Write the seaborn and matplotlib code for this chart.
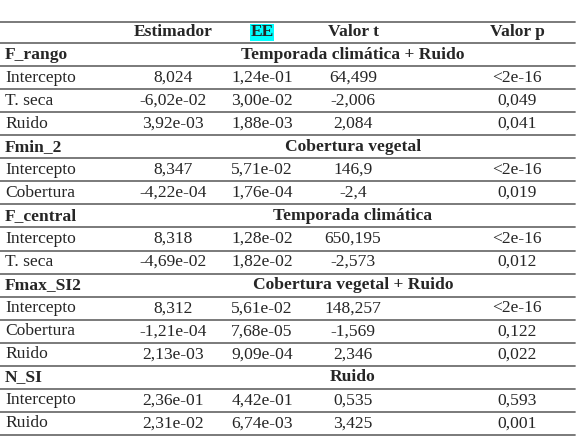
import matplotlib.pyplot as plt
import seaborn as sns

columns = ["Estimador", "EE", "Valor t", "Valor p"]
groups = ["F_rango", "Fmin_2", "F_central", "Fmax_SI2", "N_SI"]
models = ["Temporada climática + Ruido", "Cobertura vegetal", "Temporada climática",
          "Cobertura vegetal + Ruido", "Ruido"]
terms = [
    ["Intercepto", "T. seca", "Ruido"],
    ["Intercepto", "Cobertura"],
    ["Intercepto", "T. seca"],
    ["Intercepto", "Cobertura", "Ruido"],
    ["Intercepto", "Ruido"],
]
estimador = [["8,024", "-6,02e-02", "3,92e-03"], ["8,347", "-4,22e-04"], ["8,318", "-4,69e-02"],
             ["8,312", "-1,21e-04", "2,13e-03"], ["2,36e-01", "2,31e-02"]]
ee = [["1,24e-01", "3,00e-02", "1,88e-03"], ["5,71e-02", "1,76e-04"], ["1,28e-02", "1,82e-02"],
      ["5,61e-02", "7,68e-05", "9,09e-04"], ["4,42e-01", "6,74e-03"]]
valor_t = [["64,499", "-2,006", "2,084"], ["146,9", "-2,4"], ["650,195", "-2,573"],
           ["148,257", "-1,569", "2,346"], ["0,535", "3,425"]]
valor_p = [["<2e-16", "0,049", "0,041"], ["<2e-16", "0,019"], ["<2e-16", "0,012"],
           ["<2e-16", "0,122", "0,022"], ["0,593", "0,001"]]

sns.set_style("white")
plt.rcParams["font.family"] = ["Liberation Serif", "DejaVu Serif"]

fig = plt.figure(figsize=(5.81, 4.44), dpi=100)
ax = fig.add_axes([0, 0, 1, 1])
ax.set_xlim(0, 581)
ax.set_ylim(444, 0)
ax.axis("off")

col_x = [173, 262, 353, 517]
fs = 12.6
line_kw = dict(color="#6f6f6f", lw=1.3)

top, head_bot, row_h = 22, 43, 23.06
ax.plot([0, 575], [top, top], **line_kw)
for i, c in enumerate(columns):
    t = ax.text(col_x[i], (top + head_bot) / 2, c, ha="center", va="center",
                fontsize=fs, fontweight="bold")
    if c == "EE":
        t.set_bbox(dict(facecolor="#00ffff", edgecolor="none", pad=0.5))
ax.plot([0, 575], [head_bot, head_bot], **line_kw)

y = head_bot
for g in range(len(groups)):
    yc = y + row_h / 2
    ax.text(5, yc, groups[g], ha="left", va="center", fontsize=fs, fontweight="bold")
    ax.text(353, yc, models[g], ha="center", va="center", fontsize=fs, fontweight="bold")
    y += row_h
    ax.plot([0, 575], [y, y], **line_kw)
    for r in range(len(terms[g])):
        yc = y + row_h / 2
        ax.text(5, yc, terms[g][r], ha="left", va="center", fontsize=fs)
        for i, vals in enumerate([estimador, ee, valor_t, valor_p]):
            ax.text(col_x[i], yc, vals[g][r], ha="center", va="center", fontsize=fs)
        y += row_h
        ax.plot([0, 575], [y, y], **line_kw)

fig.savefig("out.png", dpi=100)
